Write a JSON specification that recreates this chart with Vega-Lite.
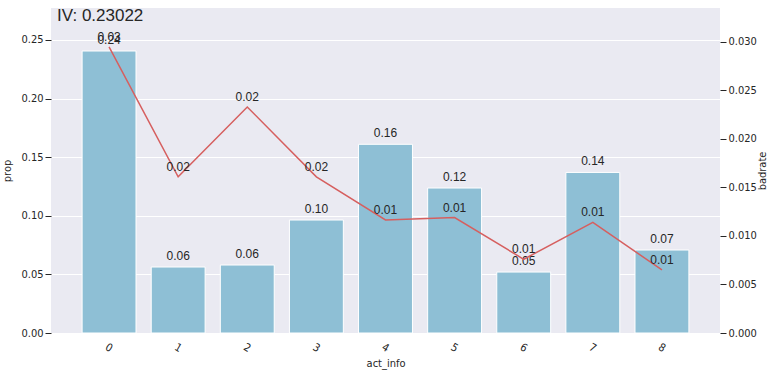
{
  "$schema": "https://vega.github.io/schema/vega-lite/v6.json",
  "autosize": {"type": "none"},
  "width": 669,
  "height": 325,
  "padding": {"left": 51, "top": 8, "right": 55, "bottom": 43},
  "background": "white",
  "title": {
    "text": "IV: 0.23022",
    "anchor": "start",
    "frame": "group",
    "dx": 6,
    "offset": -30,
    "baseline": "alphabetic",
    "fontSize": 17,
    "font": "Liberation Sans",
    "fontWeight": "normal",
    "color": "#262626"
  },
  "config": {
    "view": {"fill": "#EAEAF2", "stroke": null},
    "axis": {
      "domain": false,
      "tickColor": "#262626",
      "tickSize": 6,
      "labelFont": "DejaVu Sans Condensed, Liberation Sans",
      "labelFontSize": 11,
      "labelColor": "#262626",
      "titleFont": "DejaVu Sans Condensed, Liberation Sans",
      "titleFontSize": 11,
      "titleFontWeight": "normal",
      "titleColor": "#262626",
      "gridColor": "white",
      "gridWidth": 1,
      "gridOpacity": 1
    }
  },
  "data": {
    "values": [
      {"act_info": "0", "prop": 0.2406, "badrate": 0.0295},
      {"act_info": "1", "prop": 0.0563, "badrate": 0.0161},
      {"act_info": "2", "prop": 0.0580, "badrate": 0.0233},
      {"act_info": "3", "prop": 0.0964, "badrate": 0.0161},
      {"act_info": "4", "prop": 0.1610, "badrate": 0.01165},
      {"act_info": "5", "prop": 0.1237, "badrate": 0.0119},
      {"act_info": "6", "prop": 0.0520, "badrate": 0.0076},
      {"act_info": "7", "prop": 0.1370, "badrate": 0.0114},
      {"act_info": "8", "prop": 0.0708, "badrate": 0.0065}
    ]
  },
  "encoding": {
    "x": {
      "field": "act_info",
      "type": "nominal",
      "sort": null,
      "scale": {"paddingInner": 0.22, "paddingOuter": 0.45},
      "axis": {"labelAngle": 30, "grid": false, "title": "act_info", "ticks": false, "labelPadding": 8, "titlePadding": 4}
    }
  },
  "layer": [
    {
      "layer": [
        {
          "mark": {"type": "bar", "color": "#8ebfd5", "stroke": "white", "strokeWidth": 1},
          "encoding": {
            "y": {
              "field": "prop",
              "type": "quantitative",
              "scale": {"domain": [0, 0.2773], "nice": false},
              "axis": {"title": "prop", "values": [0, 0.05, 0.1, 0.15, 0.2, 0.25], "format": ".2f", "labelPadding": 2, "titlePadding": 8}
            }
          }
        },
        {
          "mark": {"type": "text", "dy": -11, "fontSize": 12, "font": "Liberation Sans", "color": "#262626"},
          "encoding": {
            "y": {"field": "prop", "type": "quantitative"},
            "text": {"field": "prop", "type": "quantitative", "format": ".2f"}
          }
        }
      ]
    },
    {
      "layer": [
        {
          "mark": {"type": "line", "color": "#d65f5f", "strokeWidth": 1.5},
          "encoding": {
            "y": {
              "field": "badrate",
              "type": "quantitative",
              "scale": {"domain": [0, 0.0335], "nice": false},
              "axis": {"orient": "right", "title": "badrate", "grid": false, "values": [0, 0.005, 0.01, 0.015, 0.02, 0.025, 0.03], "format": ".3f", "labelPadding": 2, "titleAngle": 270, "titlePadding": 11}
            }
          }
        },
        {
          "mark": {"type": "text", "dy": -10, "fontSize": 12, "font": "Liberation Sans", "color": "#262626"},
          "encoding": {
            "y": {"field": "badrate", "type": "quantitative"},
            "text": {"field": "badrate", "type": "quantitative", "format": ".2f"}
          }
        }
      ]
    }
  ],
  "resolve": {"scale": {"y": "independent"}}
}
